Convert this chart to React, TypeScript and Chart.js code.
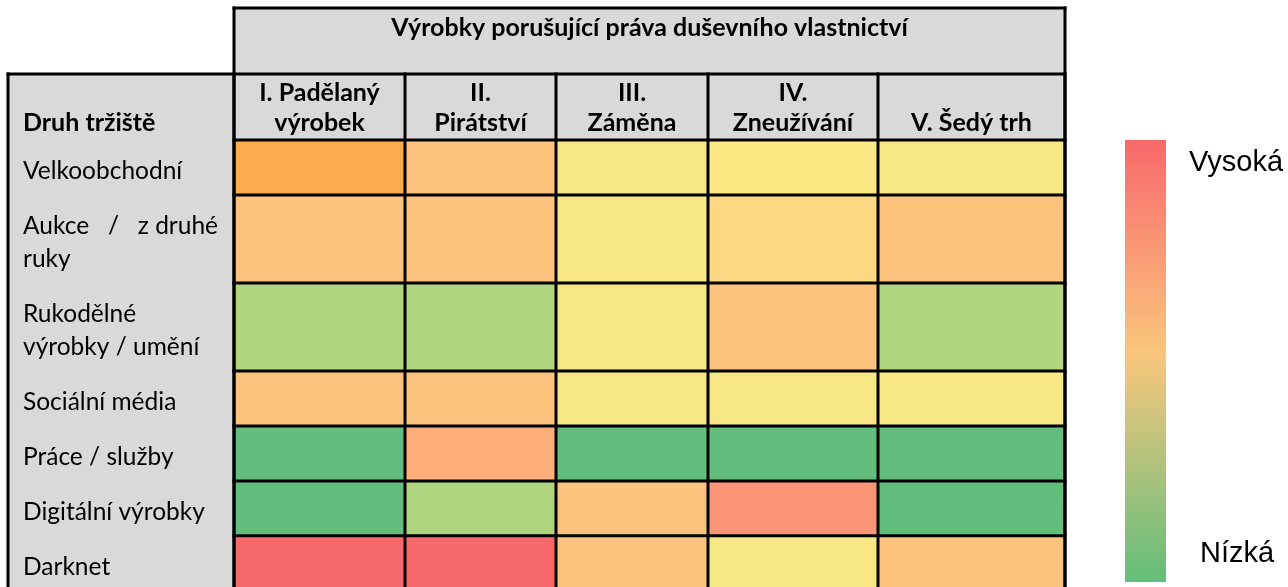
import React, { useEffect, useRef } from "react";
import { Chart, registerables } from "chart.js";

Chart.register(...registerables);

// ---------- texts ----------
const TITLE = "Výrobky porušující práva duševního vlastnictví";
const ROW_HEADER = "Druh tržiště";
const COLUMN_LABELS: string[][] = [
  ["I. Padělaný", "výrobek"],
  ["II.", "Pirátství"],
  ["III.", "Záměna"],
  ["IV.", "Zneužívání"],
  ["V. Šedý trh"],
];
const MARKET_LABELS: string[][] = [
  ["Velkoobchodní"],
  ["Aukce   /   z druhé", "ruky"],
  ["Rukodělné", "výrobky / umění"],
  ["Sociální média"],
  ["Práce / služby"],
  ["Digitální výrobky"],
  ["Darknet"],
];
const LEGEND_HIGH = "Vysoká";
const LEGEND_LOW = "Nízká";

// ---------- risk levels per marketplace (columns I..V) ----------
const velkoobchodni = [6.5, 5, 3, 3.5, 3];
const aukce = [5, 5, 3, 4, 5];
const rukodelne = [2, 2, 3, 5, 2];
const socialniMedia = [5, 5, 3, 3, 3];
const praceSluzby = [1, 6, 1, 1, 1];
const digitalniVyrobky = [1, 2, 5, 7, 1];
const darknet = [9, 9, 5, 3, 5];
const LEVELS = [velkoobchodni, aukce, rukodelne, socialniMedia, praceSluzby, digitalniVyrobky, darknet];

// colour per risk level
const LEVEL_VALUES = [1, 2, 3, 3.5, 4, 5, 6, 6.5, 7, 9];
const LEVEL_COLORS = ["#63BE7B", "#AFD57E", "#F6E784", "#FCE883", "#FCD883", "#FDC37E", "#FDAE7A", "#FAAB4C", "#F99677", "#F8696B"];
const colorFor = (v: number) => LEVEL_COLORS[LEVEL_VALUES.indexOf(v)] ?? "#cccccc";

// ---------- layout (table geometry) ----------
const W = 1288;
const H = 587;
const TABLE_LEFT = 8;
const TITLE_TOP = 8;
const HEADER_TOP = 74;
const LABEL_X = 23;
const AREA_LEFT = 234;
const AREA_RIGHT = 1065;
const AREA_TOP = 140;
const COL_UNITS = [171, 151, 152, 170, 187]; // relative column widths
const ROW_UNITS = [1, 1.6, 1.6, 1, 1, 1, 1]; // relative row heights
const Y_VISIBLE = 8.13;
const LABEL_SHIFT = 0.06; // small downward nudge of row labels
const GRAY = "#D9D9D9";
const FONT = "Lato";

const colEdges = COL_UNITS.reduce<number[]>((acc, w) => [...acc, acc[acc.length - 1] + w], [0]);
const rowEdges = ROW_UNITS.reduce<number[]>((acc, h) => [...acc, acc[acc.length - 1] + h], [0]);
const colCenters = COL_UNITS.map((_, i) => (colEdges[i] + colEdges[i + 1]) / 2);
const rowCenters = ROW_UNITS.map((_, i) => (rowEdges[i] + rowEdges[i + 1]) / 2);
const X_TOTAL = colEdges[colEdges.length - 1];
const PX_PER_UNIT = (AREA_RIGHT - AREA_LEFT) / X_TOTAL;

const tablePlugin = {
  id: "tableDecor",
  beforeDraw(chart: any) {
    const { ctx, chartArea: a } = chart;
    ctx.save();
    ctx.fillStyle = GRAY;
    ctx.fillRect(a.left, TITLE_TOP, a.right - a.left, HEADER_TOP - TITLE_TOP);
    ctx.fillRect(TABLE_LEFT, HEADER_TOP, a.right - TABLE_LEFT, a.top - HEADER_TOP);
    ctx.fillRect(TABLE_LEFT, a.top, a.left - TABLE_LEFT, chart.height - a.top);
    ctx.restore();
  },
  afterDatasetsDraw(chart: any) {
    const { ctx, chartArea: a, scales } = chart;
    const x = scales.x;
    const y = scales.y;
    const bottom = chart.height + 5;
    ctx.save();
    ctx.strokeStyle = "#000";
    ctx.lineWidth = 3;
    ctx.lineCap = "square";
    const line = (x1: number, y1: number, x2: number, y2: number) => {
      ctx.beginPath();
      ctx.moveTo(x1, y1);
      ctx.lineTo(x2, y2);
      ctx.stroke();
    };
    line(a.left, TITLE_TOP, a.right, TITLE_TOP);
    line(a.left, TITLE_TOP, a.left, bottom);
    line(a.right, TITLE_TOP, a.right, bottom);
    line(TABLE_LEFT, HEADER_TOP, a.right, HEADER_TOP);
    line(TABLE_LEFT, HEADER_TOP, TABLE_LEFT, bottom);
    colEdges.forEach((e) => {
      const px = x.getPixelForValue(e);
      line(px, HEADER_TOP, px, bottom);
    });
    line(a.left, a.top, a.right, a.top);
    rowEdges.slice(1).forEach((e) => {
      const py = y.getPixelForValue(e);
      if (py < chart.height) line(a.left, py, a.right, py);
    });

    // title & row header
    ctx.fillStyle = "#000";
    ctx.textBaseline = "middle";
    ctx.font = `bold 25px ${FONT}`;
    ctx.textAlign = "center";
    ctx.fillText(TITLE, (a.left + a.right) / 2, 28);
    ctx.textAlign = "left";
    ctx.fillText(ROW_HEADER, LABEL_X, 123);

    // colour scale legend
    const gx = 1125, gw = 41, gy0 = 140, gy1 = 582;
    const g = ctx.createLinearGradient(0, gy0, 0, gy1);
    g.addColorStop(0, "#F8696B");
    g.addColorStop(0.48, "#FAC67C");
    g.addColorStop(1, "#63BE7B");
    ctx.fillStyle = g;
    ctx.fillRect(gx, gy0, gw, gy1 - gy0);
    ctx.fillStyle = "#000";
    ctx.font = "29px 'Liberation Sans', Arial, sans-serif";
    ctx.textAlign = "left";
    ctx.fillText(LEGEND_HIGH, 1189, 163);
    ctx.fillText(LEGEND_LOW, 1200, 554);
    ctx.restore();
  },
};

export default function App() {
  const ref = useRef<HTMLCanvasElement>(null);

  useEffect(() => {
    const datasets = COL_UNITS.map((w, c) => ({
      label: COLUMN_LABELS[c].join(" "),
      data: LEVELS.map((_, r) => ({ x: colCenters[c], y: [rowEdges[r], rowEdges[r + 1]] })),
      backgroundColor: LEVELS.map((row) => colorFor(row[c])),
      borderWidth: 0,
      barThickness: w * PX_PER_UNIT,
      grouped: false,
    }));

    const chart = new Chart(ref.current as HTMLCanvasElement, {
      type: "bar",
      data: { datasets: datasets as any },
      options: {
        animation: false,
        responsive: false,
        devicePixelRatio: 1,
        layout: { padding: { left: LABEL_X, right: W - AREA_RIGHT, top: 0, bottom: 0 } },
        plugins: { legend: { display: false }, tooltip: { enabled: false }, title: { display: false } },
        scales: {
          x: {
            type: "linear",
            position: "top",
            min: 0,
            max: X_TOTAL,
            offset: false,
            grid: { display: false, drawTicks: false },
            border: { display: false },
            afterBuildTicks: (s: any) => {
              s.ticks = colCenters.map((v) => ({ value: v }));
            },
            afterFit: (s: any) => {
              s.height = AREA_TOP;
              s.paddingLeft = 0;
              s.paddingRight = 0;
            },
            ticks: {
              autoSkip: false,
              maxRotation: 0,
              minRotation: 0,
              padding: 2,
              color: "#000",
              font: { family: FONT, size: 25, weight: "bold", lineHeight: 1.2 },
              callback: (_v: any, i: number) => COLUMN_LABELS[i],
            },
          },
          y: {
            type: "linear",
            reverse: true,
            min: 0,
            max: Y_VISIBLE,
            grid: { display: false, drawTicks: false },
            border: { display: false },
            afterBuildTicks: (s: any) => {
              s.ticks = rowCenters.map((v) => ({ value: v + LABEL_SHIFT }));
            },
            afterFit: (s: any) => {
              s.width = AREA_LEFT - LABEL_X;
              s.paddingTop = 0;
              s.paddingBottom = 0;
            },
            ticks: {
              autoSkip: false,
              crossAlign: "far",
              padding: 0,
              color: "#000",
              font: { family: FONT, size: 24.5, lineHeight: 1.35 },
              callback: (_v: any, i: number) => MARKET_LABELS[i],
            },
          },
        },
      } as any,
      plugins: [tablePlugin],
    });
    return () => chart.destroy();
  }, []);

  return (
    <div style={{ position: "fixed", left: 0, top: 0, width: W, height: H, background: "#fff" }}>
      <canvas ref={ref} width={W} height={H} style={{ display: "block", width: W, height: H }} />
    </div>
  );
}
